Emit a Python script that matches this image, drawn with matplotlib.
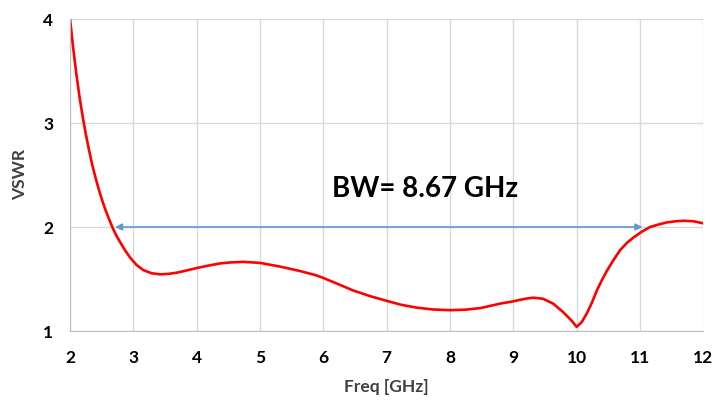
import numpy as np
import matplotlib
matplotlib.use("Agg")
import matplotlib.pyplot as plt

# VSWR curve
freq = [2.0, 2.05, 2.1, 2.15, 2.2, 2.25, 2.3, 2.35, 2.4, 2.45, 2.5, 2.55,
        2.6, 2.66, 2.72, 2.79, 2.87, 2.95, 3.05, 3.16, 3.29, 3.42, 3.55, 3.68,
        3.84, 4.0, 4.18, 4.37, 4.55, 4.73, 5.0, 5.31, 5.63, 5.89, 6.0, 6.23,
        6.47, 6.74, 7.0, 7.23, 7.47, 7.73, 8.0, 8.24, 8.48, 8.79, 9.0, 9.11,
        9.22, 9.32, 9.47, 9.63, 9.79, 9.92, 10.0, 10.08, 10.16, 10.24, 10.32,
        10.4, 10.48, 10.58, 10.69, 10.8, 10.9, 11.03, 11.16, 11.3, 11.43,
        11.56, 11.69, 11.85, 12.0]
vswr = [4.0, 3.72, 3.47, 3.25, 3.06, 2.89, 2.74, 2.60, 2.48, 2.37, 2.27, 2.18,
        2.10, 2.01, 1.93, 1.856, 1.775, 1.705, 1.635, 1.585, 1.555, 1.545, 1.549, 1.56,
        1.582, 1.605, 1.628, 1.65, 1.66, 1.665, 1.655, 1.62, 1.577, 1.535, 1.51, 1.452,
        1.39, 1.335, 1.29, 1.252, 1.225, 1.207, 1.20, 1.205, 1.22, 1.263, 1.285, 1.30,
        1.313, 1.32, 1.31, 1.263, 1.18, 1.10, 1.04, 1.085, 1.167, 1.27, 1.39,
        1.49, 1.58, 1.68, 1.78, 1.85, 1.90, 1.955, 2.0, 2.025, 2.045,
        2.055, 2.06, 2.055, 2.035]

bw_start = 2.71
bw_stop = 11.04
bw_level = 2.0
bw_label = "BW= 8.67 GHz"

xticks = list(range(2, 13))
yticks = [1, 2, 3, 4]

fig = plt.figure(figsize=(7.25, 4), dpi=100)
ax = fig.add_axes([0.0966, 0.1725, 0.8734, 0.78])

ax.plot(freq, vswr, color="#ff0000", lw=1.9, solid_joinstyle="round")

ax.annotate("", xy=(bw_start, bw_level), xytext=(bw_stop, bw_level),
            arrowprops=dict(arrowstyle="<|-|>", color="#5b9bd5", lw=1.2,
                            mutation_scale=10, shrinkA=0, shrinkB=0))
ax.text(7.6, 2.37, bw_label, fontsize=20, fontweight="bold", family="Lato",
        ha="center", va="center", color="black")

ax.set_xlim(2, 12)
ax.set_ylim(1, 4)
ax.set_xticks(xticks)
ax.set_yticks(yticks)
ax.grid(color="#d9d9d9", lw=1)
ax.set_axisbelow(True)
for s in ["top", "right"]:
    ax.spines[s].set_visible(False)
for s in ["left", "bottom"]:
    ax.spines[s].set_color("#bfbfbf")
ax.tick_params(axis="x", length=0, pad=14)
ax.tick_params(axis="y", length=0, pad=12)
for lab in ax.get_xticklabels() + ax.get_yticklabels():
    lab.set_fontweight("bold")
    lab.set_fontsize(12.5)
    lab.set_family("Lato")

ax.set_xlabel("Freq [GHz]", fontsize=12.5, fontweight="bold", family="Lato",
              color="#404040", labelpad=9)
ax.set_ylabel("VSWR", fontsize=12.5, fontweight="bold", family="Lato",
              color="#404040", labelpad=11)

fig.savefig("out.png", dpi=100)
